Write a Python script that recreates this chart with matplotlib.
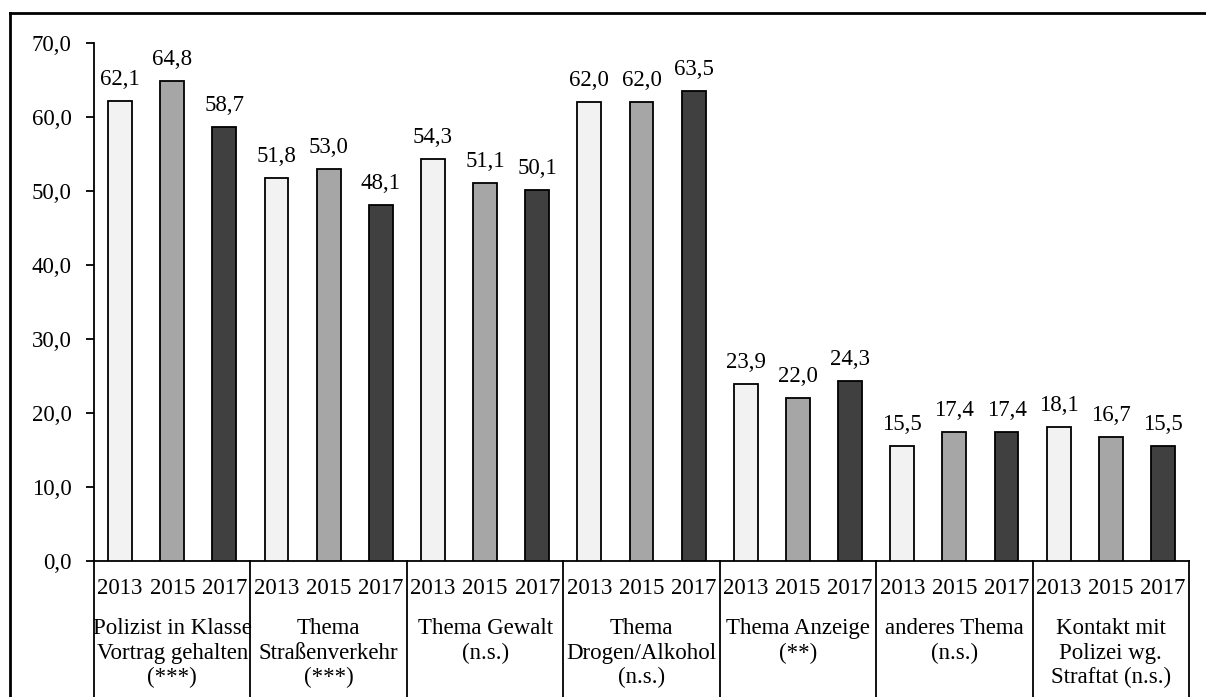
import matplotlib

matplotlib.use("Agg")
import matplotlib.pyplot as plt
import matplotlib.transforms as mtransforms
from matplotlib.lines import Line2D
from matplotlib.ticker import FuncFormatter
import numpy as np

YEARS = ["2013", "2015", "2017"]
CATEGORIES = [
    "Polizist in Klasse\nVortrag gehalten\n(***)",
    "Thema\nStraßenverkehr\n(***)",
    "Thema Gewalt\n(n.s.)",
    "Thema\nDrogen/Alkohol\n(n.s.)",
    "Thema Anzeige\n(**)",
    "anderes Thema\n(n.s.)",
    "Kontakt mit\nPolizei wg.\nStraftat (n.s.)",
]
VALUES_2013 = [62.1, 51.8, 54.3, 62.0, 23.9, 15.5, 18.1]
VALUES_2015 = [64.8, 53.0, 51.1, 62.0, 22.0, 17.4, 16.7]
VALUES_2017 = [58.7, 48.1, 50.1, 63.5, 24.3, 17.4, 15.5]

COLORS = ["#f2f2f2", "#a6a6a6", "#404040"]
FONT = "Liberation Serif"
FS = 16.5

plt.rcParams["font.family"] = FONT

fig = plt.figure(figsize=(12.06, 6.97), dpi=100)
ax = fig.add_axes([94 / 1206, 1 - 561 / 697, (1189 - 94) / 1206, 518 / 697])

series = [VALUES_2013, VALUES_2015, VALUES_2017]
n_groups = len(CATEGORIES)
width = 0.46
for j, vals in enumerate(series):
    x = np.arange(n_groups) * 3 + j
    bars = ax.bar(x, vals, width, color=COLORS[j], edgecolor="black", linewidth=1.3, zorder=3)
    for rect, v in zip(bars, vals):
        ax.annotate(f"{v:.1f}".replace(".", ","),
                    (rect.get_x() + rect.get_width() / 2, v),
                    xytext=(0, 8), textcoords="offset points",
                    ha="center", va="bottom", fontsize=FS)

ax.set_xlim(-0.5, n_groups * 3 - 0.5)
ax.set_ylim(0, 70)
ax.set_yticks(np.arange(0, 71, 10))
ax.yaxis.set_major_formatter(FuncFormatter(lambda v, _: f"{v:.1f}".replace(".", ",")))
ax.tick_params(axis="y", labelsize=FS, length=6, width=1.3, pad=10)
ax.set_xticks([])
for side in ("top", "right"):
    ax.spines[side].set_visible(False)
ax.spines["left"].set_linewidth(1.3)
ax.spines["bottom"].set_linewidth(1.3)

trans = mtransforms.blended_transform_factory(ax.transData, ax.transAxes)
px = 1 / 518
for g in range(n_groups):
    for j, year in enumerate(YEARS):
        ax.text(g * 3 + j, -27 * px, year, transform=trans, ha="center", va="center", fontsize=FS)
    ax.text(g * 3 + 1, -57 * px, CATEGORIES[g], transform=trans, ha="center", va="top",
            fontsize=FS, linespacing=1.22)
for g in range(n_groups + 1):
    ax.plot([g * 3 - 0.5, g * 3 - 0.5], [0, -0.4], transform=trans, color="black",
            linewidth=1.3, clip_on=False)

# outer frame (top and left visible)
fig.add_artist(Line2D([10 / 1206, 1.0], [1 - 13 / 697, 1 - 13 / 697], color="black", linewidth=2,
                      transform=fig.transFigure))
fig.add_artist(Line2D([10 / 1206, 10 / 1206], [0, 1 - 13 / 697], color="black", linewidth=2,
                      transform=fig.transFigure))

fig.savefig("out.png", dpi=100)
